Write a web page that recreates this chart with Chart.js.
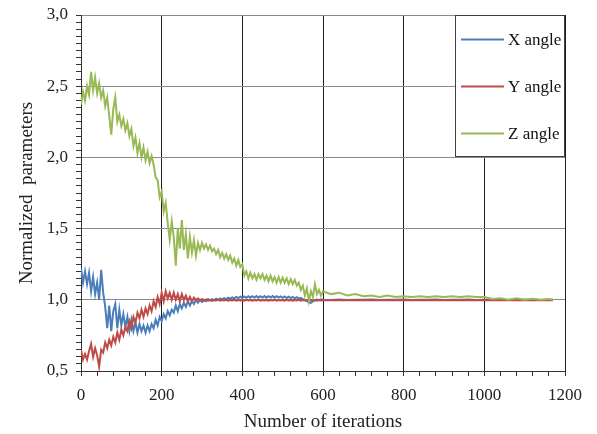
<!DOCTYPE html>
<html>
<head>
<meta charset="utf-8">
<script src="https://cdn.jsdelivr.net/npm/chart.js@4.4.1/dist/chart.umd.min.js"></script>
<style>
  html, body { margin: 0; padding: 0; background: #fff; }
</style>
</head>
<body>
<canvas id="c" width="597" height="434"></canvas>
<script>
// iteration numbers (x values shared by all three series)
const iterations = [
  0,5,10,15,20,25,30,35,40,45,50,55,60,65,70,75,80,85,90,95,
  100,105,110,115,120,125,130,135,140,145,150,155,160,165,170,175,180,185,190,195,
  200,205,210,215,220,225,230,235,240,245,250,255,260,265,270,275,280,285,290,295,
  300,305,310,315,320,325,330,335,340,345,350,355,360,365,370,375,380,385,390,395,
  400,405,410,415,420,425,430,435,440,445,450,455,460,465,470,475,480,485,490,495,
  500,505,510,515,520,525,530,535,540,545,550,555,560,565,570,575,580,585,590,595,
  600,620,640,660,680,700,720,740,760,780,800,820,840,860,880,900,920,940,960,980,
  1000,1020,1040,1060,1080,1100,1120,1140,1160,1170
];

const xAngle = [
  1.22,1.12,1.20,1.11,1.19,1.06,1.16,1.04,1.12,1.00,1.21,1.05,0.95,0.80,0.96,0.78,0.92,0.97,0.80,0.93,
  0.82,0.90,0.81,0.88,0.78,0.86,0.78,0.84,0.77,0.83,0.78,0.82,0.77,0.82,0.78,0.83,0.80,0.86,0.82,0.88,
  0.85,0.90,0.87,0.92,0.89,0.93,0.91,0.96,0.92,0.97,0.94,0.98,0.95,0.99,0.96,0.99,0.97,1.00,0.98,1.00,
  0.985,1.0,0.99,1.005,0.995,1.005,0.997,1.008,1.0,1.01,1.003,1.012,1.005,1.015,1.008,1.017,1.01,1.02,1.012,1.022,
  1.013,1.023,1.014,1.025,1.015,1.025,1.016,1.026,1.015,1.025,1.016,1.026,1.015,1.025,1.016,1.026,1.015,1.025,1.015,1.024,
  1.014,1.024,1.013,1.022,1.012,1.02,1.01,1.018,1.008,1.014,1.004,1.0,0.99,0.983,0.978,0.99,0.995,1.002,0.998,1.003,
  1.0,0.998,1.002,0.999,1.001,1.0,1.002,0.999,1.001,1.0,1.002,0.999,1.001,1.0,1.002,0.999,1.001,1.0,1.002,0.999,
  1.001,1.0,1.001,0.999,1.001,1.0,1.001,0.999,1.0,1.0
];

const yAngle = [
  0.65,0.58,0.62,0.58,0.64,0.69,0.60,0.66,0.61,0.53,0.65,0.63,0.70,0.66,0.72,0.68,0.74,0.70,0.77,0.72,
  0.79,0.75,0.81,0.78,0.85,0.80,0.88,0.84,0.91,0.87,0.93,0.88,0.94,0.90,0.96,0.92,0.99,0.95,1.02,0.97,
  1.05,0.99,1.06,1.01,1.05,1.00,1.05,1.00,1.04,0.99,1.04,1.00,1.03,0.99,1.02,0.99,1.015,0.995,1.01,0.995,
  1.005,0.993,1.002,0.994,1.0,0.993,0.999,0.995,1.0,0.994,0.999,0.995,1.0,0.994,0.999,0.995,1.0,0.994,0.999,0.995,
  0.999,0.994,1.0,0.995,0.998,0.994,0.999,0.995,1.0,0.994,0.999,0.995,0.998,0.994,0.999,0.995,1.0,0.994,0.999,0.995,
  0.999,0.994,1.0,0.995,0.998,0.994,0.999,0.995,1.0,0.994,0.999,0.995,0.998,0.994,0.999,0.995,1.0,0.994,0.999,0.995,
  0.997,0.996,0.998,0.996,0.998,0.996,0.998,0.996,0.998,0.996,0.998,0.996,0.998,0.996,0.998,0.996,0.998,0.996,0.998,0.996,
  0.998,0.996,0.998,0.996,0.998,0.996,0.998,0.996,0.998,0.997
];

const zAngle = [
  2.37,2.46,2.40,2.50,2.44,2.60,2.47,2.56,2.45,2.52,2.42,2.47,2.36,2.42,2.29,2.16,2.34,2.42,2.25,2.30,
  2.22,2.27,2.19,2.24,2.15,2.20,2.08,2.14,2.03,2.10,2.00,2.07,1.98,2.04,1.96,2.01,1.95,1.86,1.84,1.72,
  1.76,1.62,1.68,1.54,1.42,1.55,1.44,1.24,1.50,1.36,1.56,1.35,1.46,1.29,1.44,1.33,1.42,1.31,1.40,1.35,
  1.40,1.36,1.39,1.35,1.38,1.34,1.36,1.32,1.35,1.30,1.33,1.29,1.32,1.28,1.31,1.26,1.29,1.24,1.28,1.23,
  1.25,1.17,1.20,1.15,1.19,1.15,1.18,1.14,1.18,1.15,1.18,1.14,1.17,1.13,1.17,1.13,1.16,1.12,1.16,1.12,
  1.155,1.12,1.15,1.11,1.145,1.11,1.14,1.10,1.12,1.07,1.10,1.03,1.08,0.99,1.06,1.02,1.11,1.04,1.07,1.03,
  1.06,1.04,1.05,1.03,1.04,1.025,1.03,1.02,1.03,1.02,1.025,1.02,1.025,1.02,1.025,1.02,1.025,1.02,1.025,1.02,
  1.02,1.005,1.01,1.0,1.01,1.0,1.008,1.0,1.005,1.0
];

const seriesNames = ['X angle', 'Y angle', 'Z angle'];
const seriesColors = ['#4a7ebb', '#be4b48', '#98b954'];

const serif = "'Liberation Serif', 'Times New Roman', serif";

function points(values) {
  return iterations.map((it, i) => ({ x: it, y: values[i] }));
}

// legend drawn as a framed box in the top-right corner of the plot
const boxLegend = {
  id: 'boxLegend',
  afterDraw(chart) {
    const ctx = chart.ctx, area = chart.chartArea;
    const w = 110, h = 142;
    const x0 = Math.round(area.right) - w, y0 = Math.round(area.top);
    ctx.save();
    ctx.fillStyle = '#fff';
    ctx.fillRect(x0, y0, w, h);
    ctx.strokeStyle = '#404040';
    ctx.lineWidth = 1;
    ctx.strokeRect(x0 + 0.5, y0 + 0.5, w - 1, h - 1);
    ctx.font = '17px ' + serif;
    ctx.textBaseline = 'middle';
    chart.data.datasets.forEach((ds, i) => {
      const y = y0 + 24.5 + i * 47;
      ctx.strokeStyle = ds.borderColor;
      ctx.lineWidth = 2;
      ctx.beginPath();
      ctx.moveTo(x0 + 6, y);
      ctx.lineTo(x0 + 49, y);
      ctx.stroke();
      ctx.fillStyle = '#111';
      ctx.fillText(ds.label, x0 + 53, y + 1);
    });
    ctx.restore();
  }
};

const isMajorY = v => Math.abs(v * 2 - Math.round(v * 2)) < 1e-6;

new Chart(document.getElementById('c'), {
  type: 'line',
  data: {
    datasets: [xAngle, yAngle, zAngle].map((vals, i) => ({
      label: seriesNames[i],
      data: points(vals),
      borderColor: seriesColors[i],
      backgroundColor: seriesColors[i],
      borderWidth: 2,
      pointRadius: 0,
      tension: 0,
      order: 3 - i
    }))
  },
  options: {
    responsive: false,
    animation: false,
    events: [],
    layout: { padding: { top: 15, right: 32, left: 0, bottom: 0 } },
    plugins: { legend: { display: false }, tooltip: { enabled: false } },
    scales: {
      x: {
        type: 'linear',
        min: 0,
        max: 1200,
        ticks: {
          stepSize: 40,
          autoSkip: false,
          maxRotation: 0,
          padding: 9,
          color: '#222',
          font: { family: serif, size: 17 },
          callback: v => (v % 200 === 0 ? String(v) : '')
        },
        grid: {
          color: c => (c.tick && c.tick.value % 200 === 0 ? '#1e1e1e' : 'transparent'),
          tickColor: '#333',
          tickLength: 5
        },
        border: { color: '#333' },
        title: {
          display: true,
          text: 'Number of iterations',
          color: '#222',
          font: { family: serif, size: 19 },
          padding: { top: 0, bottom: 1 }
        },
        afterFit(scale) {
          scale.height = 63;
          scale.paddingLeft = 0;
          scale.paddingRight = 0;
        }
      },
      y: {
        min: 0.5,
        max: 3.0,
        ticks: {
          stepSize: 0.05,
          autoSkip: false,
          padding: 8,
          color: '#222',
          font: { family: serif, size: 17 },
          callback: v => (isMajorY(v) ? v.toFixed(1).replace('.', ',') : '')
        },
        grid: {
          color: c => (c.tick && isMajorY(c.tick.value) ? '#8a8a8a' : 'transparent'),
          tickColor: '#333',
          tickLength: 5
        },
        border: { color: '#333' },
        title: {
          display: true,
          text: 'Normalized  parameters',
          color: '#222',
          font: { family: serif, size: 19 },
          padding: { top: 16, bottom: 0 }
        },
        afterFit(scale) {
          scale.width = 81;
          scale.paddingTop = 0;
          scale.paddingBottom = 0;
        }
      }
    }
  },
  plugins: [boxLegend]
});
</script>
</body>
</html>
